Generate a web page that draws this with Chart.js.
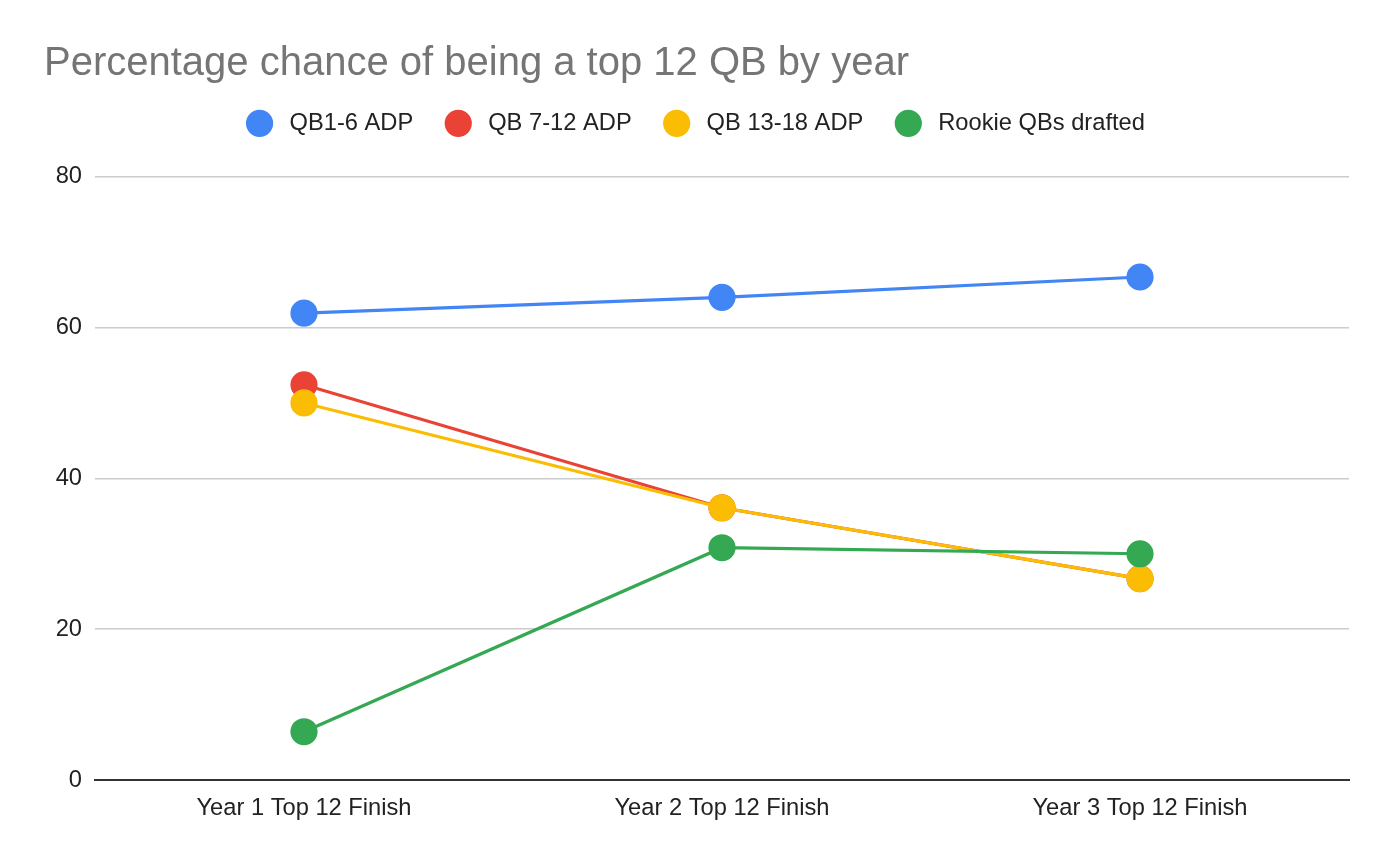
<!DOCTYPE html>
<html>
<head>
<meta charset="utf-8">
<script src="https://cdn.jsdelivr.net/npm/chart.js@4.4.0/dist/chart.umd.min.js"></script>
<style>
  html, body { margin: 0; padding: 0; background: #fff; }
  #wrap { width: 1392px; height: 860px; }
</style>
</head>
<body>
<div id="wrap"><canvas id="myChart"></canvas></div>
<script>
// chart data
var years = ['Year 1 Top 12 Finish', 'Year 2 Top 12 Finish', 'Year 3 Top 12 Finish'];
var qb1to6 = [61.9, 64.0, 66.7];
var qb7to12 = [52.4, 36.1, 26.7];
var qb13to18 = [50.0, 36.1, 26.7];
var rookies = [6.4, 30.8, 30.0];
var yTicks = [0, 20, 40, 60, 80];

var font = "'Liberation Sans', Arial, sans-serif";

function series(label, data, color, order) {
    return {
        label: label,
        data: data,
        order: order,
        borderColor: color,
        backgroundColor: color,
        pointBackgroundColor: color,
        pointBorderColor: color,
        borderWidth: 3.2,
        pointRadius: 12,
        pointHoverRadius: 12,
        tension: 0
    };
}

var ctx = document.getElementById('myChart');
var myChart = new Chart(ctx, {
    type: 'line',
    data: {
        labels: years,
        datasets: [
            series('QB1-6 ADP', qb1to6, '#4285f4', 3),
            series('QB 7-12 ADP', qb7to12, '#ea4335', 2),
            series('QB 13-18 ADP', qb13to18, '#fbbc04', 1),
            series('Rookie QBs drafted', rookies, '#34a853', 0)
        ]
    },
    options: {
        responsive: true,
        maintainAspectRatio: false,
        animation: false,
        layout: { padding: { left: 44, right: 43, top: 40, bottom: 0 } },
        plugins: {
            title: {
                display: true,
                text: 'Percentage chance of being a top 12 QB by year',
                align: 'start',
                color: '#757575',
                font: { family: font, size: 40, weight: 'normal' },
                padding: { top: 0, bottom: -10 }
            },
            // empty subtitle used as a spacer between legend and plot
            subtitle: {
                display: true,
                text: '',
                weight: 500,
                font: { size: 1 },
                padding: { top: 30.3, bottom: 0 }
            },
            legend: {
                display: true,
                labels: {
                    usePointStyle: true,
                    pointStyle: 'circle',
                    boxWidth: 23,
                    boxHeight: 17,
                    padding: 33.5,
                    color: '#222',
                    font: { family: font, size: 23.7 },
                    generateLabels: function (chart) {
                        var items = Chart.defaults.plugins.legend.labels.generateLabels(chart);
                        items.forEach(function (it) { it.text = ' ' + it.text; });
                        return items;
                    },
                    sort: function (a, b) { return a.datasetIndex - b.datasetIndex; }
                }
            },
            tooltip: { enabled: false }
        },
        scales: {
            x: {
                offset: true,
                grid: { display: false },
                border: { display: true, color: '#333', width: 2 },
                ticks: { color: '#222', font: { family: font, size: 23.7 }, padding: 6 },
                afterFit: function (scale) { scale.height = 80; }
            },
            y: {
                min: 0,
                max: 80,
                border: { display: false },
                grid: { color: '#cccccc', lineWidth: 1.5, drawTicks: false },
                ticks: {
                    color: '#222',
                    font: { family: font, size: 23.7 },
                    padding: 13,
                    stepSize: 20,
                    callback: function (v) { return yTicks.indexOf(v) >= 0 ? v : ''; }
                },
                afterFit: function (scale) { scale.width = 51; }
            }
        }
    }
});
</script>
</body>
</html>
